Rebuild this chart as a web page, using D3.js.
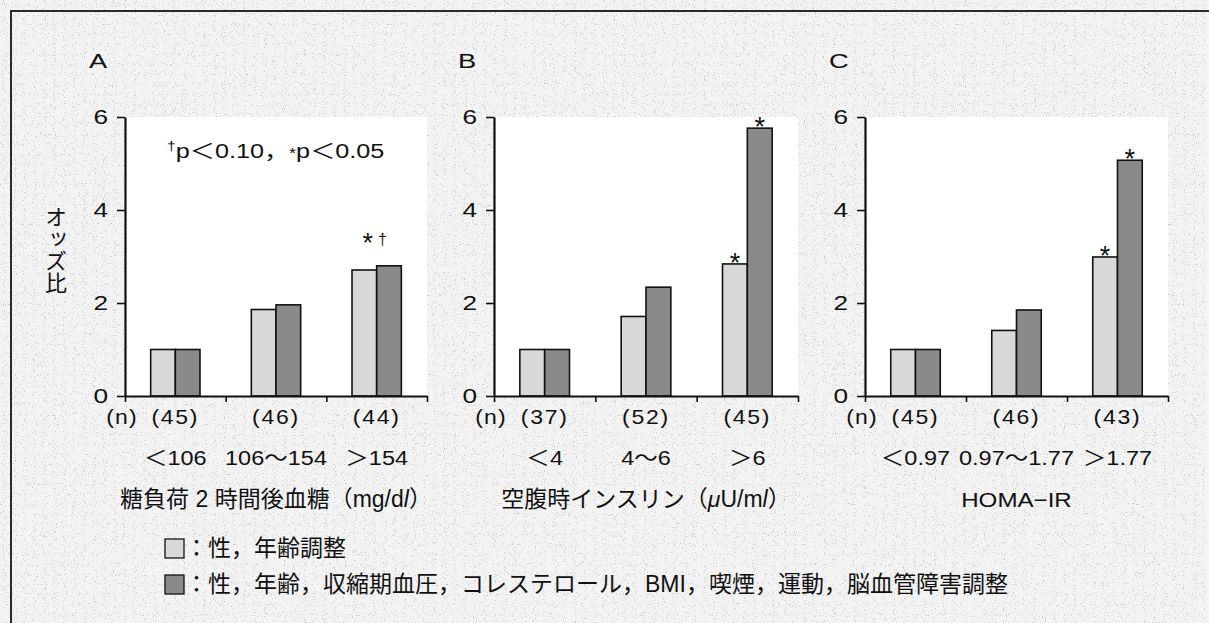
<!DOCTYPE html>
<html>
<head>
<meta charset="utf-8">
<script src="https://cdn.jsdelivr.net/npm/d3@7"></script>
<style>
  html, body { margin: 0; padding: 0; background: #fff; overflow: hidden; }
  svg { display: block; }
</style>
</head>
<body>
<div id="chart"></div>
<script>
const width = 1209;
const height = 623;
const fontMain = '"Liberation Sans", "Noto Sans CJK JP", sans-serif';
const colorLight = "#d8d8d8";
const colorDark = "#8a8a8a";
const ink = "#111";

// data
const panelLetters = ["A", "B", "C"];
const yTicks = [0, 2, 4, 6];
const categoriesA = ["＜106", "106～154", "＞154"];
const categoriesB = ["＜4", "4～6", "＞6"];
const categoriesC = ["＜0.97", "0.97～1.77", "＞1.77"];
const countsA = [45, 46, 44];
const countsB = [37, 52, 45];
const countsC = [45, 46, 43];
const sexAgeA = [1.0, 1.86, 2.71];
const fullAdjA = [1.0, 1.96, 2.80];
const sexAgeB = [1.0, 1.71, 2.84];
const fullAdjB = [1.0, 2.34, 5.76];
const sexAgeC = [1.0, 1.41, 2.99];
const fullAdjC = [1.0, 1.85, 5.07];
const barMarksA = [["", ""], ["", ""], ["", ""]];
const barMarksB = [["", ""], ["", ""], ["*", "*"]];
const barMarksC = [["", ""], ["", ""], ["*", "*"]];
const groupMarksA = ["", "", "*†"];
const titleA = [["糖負荷 2 時間後血糖（mg/d", false], ["l", true], ["）", false]];
const titleB = [["空腹時インスリン（", false], ["μ", true], ["U/m", false], ["l", true], ["）", false]];
const titleC = "HOMA−IR";
const legendLabels = ["：性，年齢調整", "：性，年齢，収縮期血圧，コレステロール，BMI，喫煙，運動，脳血管障害調整"];

const panels = [
    { letter: panelLetters[0], cats: categoriesA, n: countsA, s1: sexAgeA, s2: fullAdjA, marks: barMarksA, group: groupMarksA, title: titleA, x0: 125, x1: 427 },
    { letter: panelLetters[1], cats: categoriesB, n: countsB, s1: sexAgeB, s2: fullAdjB, marks: barMarksB, group: null, title: titleB, x0: 494, x1: 798 },
    { letter: panelLetters[2], cats: categoriesC, n: countsC, s1: sexAgeC, s2: fullAdjC, marks: barMarksC, group: null, title: titleC, x0: 865, x1: 1168 }
];

// the printed latin figures are wider than Liberation Sans, stretch them
function wide(x, y, sx) {
    return `translate(${x},${y}) scale(${sx},1)`;
}

const svg = d3.select("#chart")
    .append("svg")
    .attr("width", width)
    .attr("height", height)
    .attr("font-family", fontMain);

const defs = svg.append("defs");
const speckle = defs.append("filter").attr("id", "speckle")
    .attr("filterUnits", "userSpaceOnUse")
    .attr("x", 0).attr("y", 0).attr("width", width - 4).attr("height", height);
speckle.append("feTurbulence")
    .attr("type", "fractalNoise").attr("baseFrequency", 0.9)
    .attr("numOctaves", 1).attr("seed", 4);
speckle.append("feColorMatrix").attr("type", "matrix")
    .attr("values", "0 0 0 0 0.6  0 0 0 0 0.6  0 0 0 0 0.6  9 0 0 0 -5.5");

svg.append("rect").attr("width", width).attr("height", height).attr("fill", "#f3f3f3");
svg.append("rect").attr("width", width - 4).attr("height", height).attr("filter", "url(#speckle)");

// frame (top + left only)
svg.append("path")
    .attr("d", `M11,${height} V11 H${width}`)
    .attr("fill", "none")
    .attr("stroke", "#2a2a2a")
    .attr("stroke-width", 2);

const y = d3.scaleLinear().domain([0, 6]).range([396, 117]);

panels.forEach(drawPanel);

// y label
svg.append("text")
    .attr("x", 56)
    .attr("y", 206)
    .attr("writing-mode", "vertical-rl")
    .attr("font-size", 22)
    .attr("fill", ink)
    .attr("font-family", '"Noto Sans CJK JP", sans-serif')
    .text("オッズ比");

// p-value note
const note = svg.append("text")
    .attr("transform", wide(167, 158, 1.2))
    .attr("font-size", 21)
    .attr("fill", ink);
note.append("tspan").attr("font-size", 13).attr("dy", -8).text("†");
note.append("tspan").attr("dy", 8).text("p＜0.10，");
note.append("tspan").attr("font-size", 15).text("*");
note.append("tspan").text("p＜0.05");

// legend
const legend = svg.append("g").attr("transform", "translate(165,0)");
[colorLight, colorDark].forEach((c, i) => {
    const row = legend.append("g").attr("transform", `translate(0,${539 + i * 36})`);
    row.append("rect")
        .attr("width", 19).attr("height", 19)
        .attr("fill", c).attr("stroke", ink).attr("stroke-width", 1.3);
    row.append("text")
        .attr("x", 20)
        .attr("y", 17)
        .attr("font-size", 23)
        .attr("fill", ink)
        .text(legendLabels[i]);
});

function drawPanel(p) {
    const g = svg.append("g");

    const outer = d3.scaleBand()
        .domain(d3.range(p.cats.length))
        .range([p.x0, p.x1])
        .paddingInner(0.51)
        .paddingOuter(0.255);
    const inner = d3.scaleBand().domain([0, 1]).range([0, outer.bandwidth()]);
    const bound = d3.scaleLinear().domain([0, 3]).range([p.x0, p.x1]);
    const mid = i => outer(i) + outer.bandwidth() / 2;

    g.append("rect")
        .attr("x", p.x0).attr("y", y(6))
        .attr("width", p.x1 - p.x0).attr("height", y(0) - y(6))
        .attr("fill", "#fff");

    g.append("text")
        .attr("transform", wide(p.x0 - 36, 68, 1.3))
        .attr("font-size", 21)
        .attr("fill", ink)
        .text(p.letter);

    const bars = p.cats.map((c, i) => [
        { i, k: 0, v: p.s1[i], mark: p.marks[i][0] },
        { i, k: 1, v: p.s2[i], mark: p.marks[i][1] }
    ]).flat();

    g.append("g")
        .selectAll("rect")
        .data(bars)
        .join("rect")
        .attr("x", d => outer(d.i) + inner(d.k))
        .attr("y", d => y(d.v))
        .attr("width", inner.bandwidth())
        .attr("height", d => y(0) - y(d.v))
        .attr("fill", d => d.k === 0 ? colorLight : colorDark)
        .attr("stroke", ink)
        .attr("stroke-width", 1.6);

    g.append("g")
        .selectAll("text")
        .data(bars.filter(d => d.mark))
        .join("text")
        .attr("x", d => outer(d.i) + inner(d.k) + inner.bandwidth() / 2)
        .attr("y", d => y(d.v) + 8)
        .attr("text-anchor", "middle")
        .attr("font-size", 27)
        .attr("fill", ink)
        .text(d => d.mark);

    if (p.group) {
        p.group.forEach((m, i) => {
            if (!m) return;
            const top = y(Math.max(p.s1[i], p.s2[i]));
            const t = g.append("text")
                .attr("x", mid(i) - 2)
                .attr("y", top - 14)
                .attr("text-anchor", "middle")
                .attr("font-size", 27)
                .attr("fill", ink);
            t.append("tspan").text(m[0]);
            t.append("tspan").attr("font-size", 16).attr("dx", 5).attr("dy", -7).text(m[1]);
        });
    }

    // y axis
    const ya = g.append("g")
        .attr("transform", `translate(${p.x0},0)`)
        .call(d3.axisLeft(y).tickValues(yTicks).tickFormat(d3.format("d"))
            .tickSize(8).tickSizeOuter(0).tickPadding(8));
    ya.select(".domain").attr("stroke", ink).attr("stroke-width", 2.2);
    ya.selectAll(".tick line").attr("stroke", ink).attr("stroke-width", 1.6);
    ya.selectAll(".tick text")
        .attr("x", null)
        .attr("transform", "translate(-17,0) scale(1.25,1)")
        .attr("font-size", 21)
        .attr("font-family", fontMain)
        .attr("fill", ink);

    // x axis with ticks on the category boundaries
    const xa = g.append("g")
        .attr("transform", `translate(0,${y(0)})`)
        .call(d3.axisBottom(bound).tickValues([0, 1, 2, 3]).tickFormat("").tickSize(6).tickSizeOuter(0));
    xa.select(".domain").attr("stroke", ink).attr("stroke-width", 2.2);
    xa.selectAll(".tick line").attr("stroke", ink).attr("stroke-width", 1.6);

    // n row
    g.append("text")
        .attr("transform", wide(p.x0 - 3, 424, 1.15))
        .attr("text-anchor", "middle")
        .attr("font-size", 20)
        .attr("letter-spacing", 1)
        .attr("fill", ink)
        .text("(n)");
    g.append("g")
        .selectAll("text")
        .data(p.n)
        .join("text")
        .attr("transform", (d, i) => wide(mid(i), 424, 1.15))
        .attr("text-anchor", "middle")
        .attr("font-size", 20)
        .attr("letter-spacing", 1.5)
        .attr("fill", ink)
        .text(d => `(${d})`);

    // category labels
    g.append("g")
        .selectAll("text")
        .data(p.cats)
        .join("text")
        .attr("transform", (d, i) => wide(mid(i), 465, 1.12))
        .attr("text-anchor", "middle")
        .attr("font-size", 21)
        .attr("fill", ink)
        .text(d => d);

    // axis title
    const cx = (p.x0 + p.x1) / 2;
    if (typeof p.title === "string") {
        g.append("text")
            .attr("transform", wide(cx, 507, 1.15))
            .attr("text-anchor", "middle")
            .attr("font-size", 21)
            .attr("fill", ink)
            .text(p.title);
    } else {
        const title = g.append("text")
            .attr("x", cx)
            .attr("y", 507)
            .attr("text-anchor", "middle")
            .attr("font-size", 23)
            .attr("fill", ink);
        title.selectAll("tspan")
            .data(p.title)
            .join("tspan")
            .attr("font-style", d => d[1] ? "italic" : null)
            .text(d => d[0]);
    }
}
</script>
</body>
</html>
